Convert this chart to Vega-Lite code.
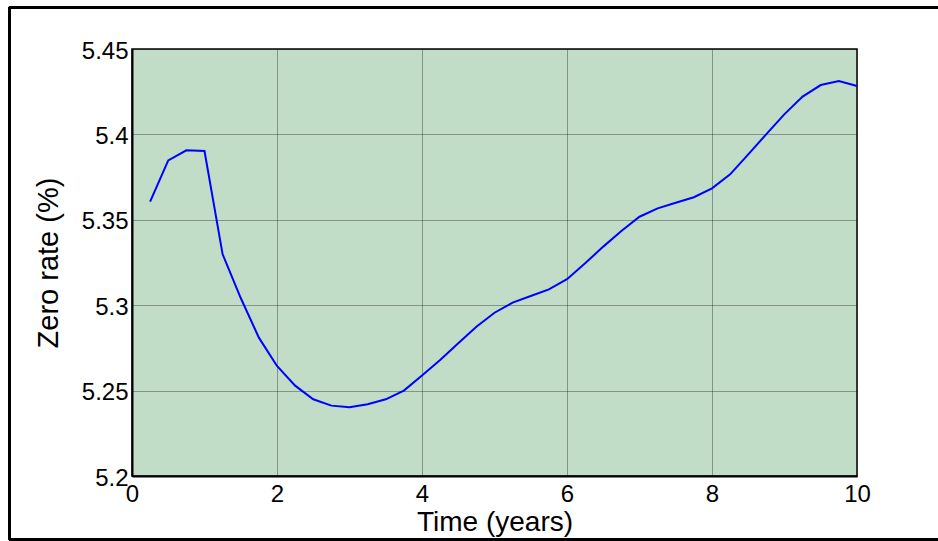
{
  "$schema": "https://vega.github.io/schema/vega-lite/v6.json",
  "width": 725,
  "height": 427,
  "autosize": "none",
  "padding": {"left": 132, "top": 49, "right": 81, "bottom": 65},
  "background": "white",
  "config": {
    "font": "Liberation Sans",
    "view": {"fill": "#c2ddc7", "stroke": "#000", "strokeWidth": 1.5},
    "axis": {
      "domainColor": "#000",
      "domainWidth": 2,
      "ticks": false,
      "grid": true,
      "gridColor": "#1a1a1a",
      "gridOpacity": 0.75,
      "gridWidth": 1,
      "gridDash": [1, 1],
      "labelColor": "#000",
      "labelFont": "Liberation Sans",
      "labelFontSize": 24,
      "labelFlush": false,
      "labelOverlap": false,
      "titleColor": "#000",
      "titleFont": "Liberation Sans",
      "titleFontWeight": "normal"
    }
  },
  "data": {
    "values": [
      {"t": 0.25, "rate": 5.3606},
      {"t": 0.5, "rate": 5.3848},
      {"t": 0.75, "rate": 5.3907},
      {"t": 1.0, "rate": 5.3903},
      {"t": 1.25, "rate": 5.3298},
      {"t": 1.5, "rate": 5.3042},
      {"t": 1.75, "rate": 5.2810},
      {"t": 2.0, "rate": 5.2644},
      {"t": 2.25, "rate": 5.2529},
      {"t": 2.5, "rate": 5.2449},
      {"t": 2.75, "rate": 5.2412},
      {"t": 3.0, "rate": 5.2402},
      {"t": 3.25, "rate": 5.2420},
      {"t": 3.5, "rate": 5.2449},
      {"t": 3.75, "rate": 5.2500},
      {"t": 4.0, "rate": 5.2589},
      {"t": 4.25, "rate": 5.2679},
      {"t": 4.5, "rate": 5.2777},
      {"t": 4.75, "rate": 5.2874},
      {"t": 5.0, "rate": 5.2956},
      {"t": 5.25, "rate": 5.3015},
      {"t": 5.5, "rate": 5.3054},
      {"t": 5.75, "rate": 5.3093},
      {"t": 6.0, "rate": 5.3152},
      {"t": 6.25, "rate": 5.3245},
      {"t": 6.5, "rate": 5.3343},
      {"t": 6.75, "rate": 5.3434},
      {"t": 7.0, "rate": 5.3518},
      {"t": 7.25, "rate": 5.3567},
      {"t": 7.5, "rate": 5.3600},
      {"t": 7.75, "rate": 5.3632},
      {"t": 8.0, "rate": 5.3684},
      {"t": 8.25, "rate": 5.3766},
      {"t": 8.5, "rate": 5.3883},
      {"t": 8.75, "rate": 5.4002},
      {"t": 9.0, "rate": 5.4119},
      {"t": 9.25, "rate": 5.4221},
      {"t": 9.5, "rate": 5.4289},
      {"t": 9.75, "rate": 5.4313},
      {"t": 10.0, "rate": 5.4283}
    ]
  },
  "layer": [
    {
      "mark": {"type": "line", "color": "#0000ff", "strokeWidth": 2},
      "encoding": {
        "x": {
          "field": "t",
          "type": "quantitative",
          "scale": {"domain": [0, 10], "nice": false, "zero": false},
          "axis": {
            "title": "Time (years)",
            "titleFontSize": 28,
            "values": [0, 2, 4, 6, 8, 10],
            "format": "d",
            "labelPadding": 6,
            "titlePadding": 2
          }
        },
        "y": {
          "field": "rate",
          "type": "quantitative",
          "scale": {"domain": [5.2, 5.45], "nice": false, "zero": false},
          "axis": {
            "title": "Zero rate (%)",
            "titleFontSize": 29,
            "values": [5.2, 5.25, 5.3, 5.35, 5.4, 5.45],
            "format": "~g",
            "labelPadding": 4,
            "labelOffset": 2,
            "titlePadding": 18
          }
        }
      }
    },
    {
      "mark": {"type": "rule", "color": "#000", "strokeWidth": 3, "clip": false},
      "encoding": {
        "x": {"datum": -1.6966, "type": "quantitative"},
        "x2": {"datum": 11.2},
        "y": {"datum": 5.4743, "type": "quantitative"}
      }
    },
    {
      "mark": {"type": "rule", "color": "#000", "strokeWidth": 2.5, "clip": false},
      "encoding": {
        "x": {"datum": -1.6966, "type": "quantitative"},
        "x2": {"datum": 11.2},
        "y": {"datum": 5.1628, "type": "quantitative"}
      }
    },
    {
      "mark": {"type": "rule", "color": "#000", "strokeWidth": 2.5, "clip": false},
      "encoding": {
        "x": {"datum": -1.6897, "type": "quantitative"},
        "y": {"datum": 5.4743, "type": "quantitative"},
        "y2": {"datum": 5.1628}
      }
    }
  ]
}
